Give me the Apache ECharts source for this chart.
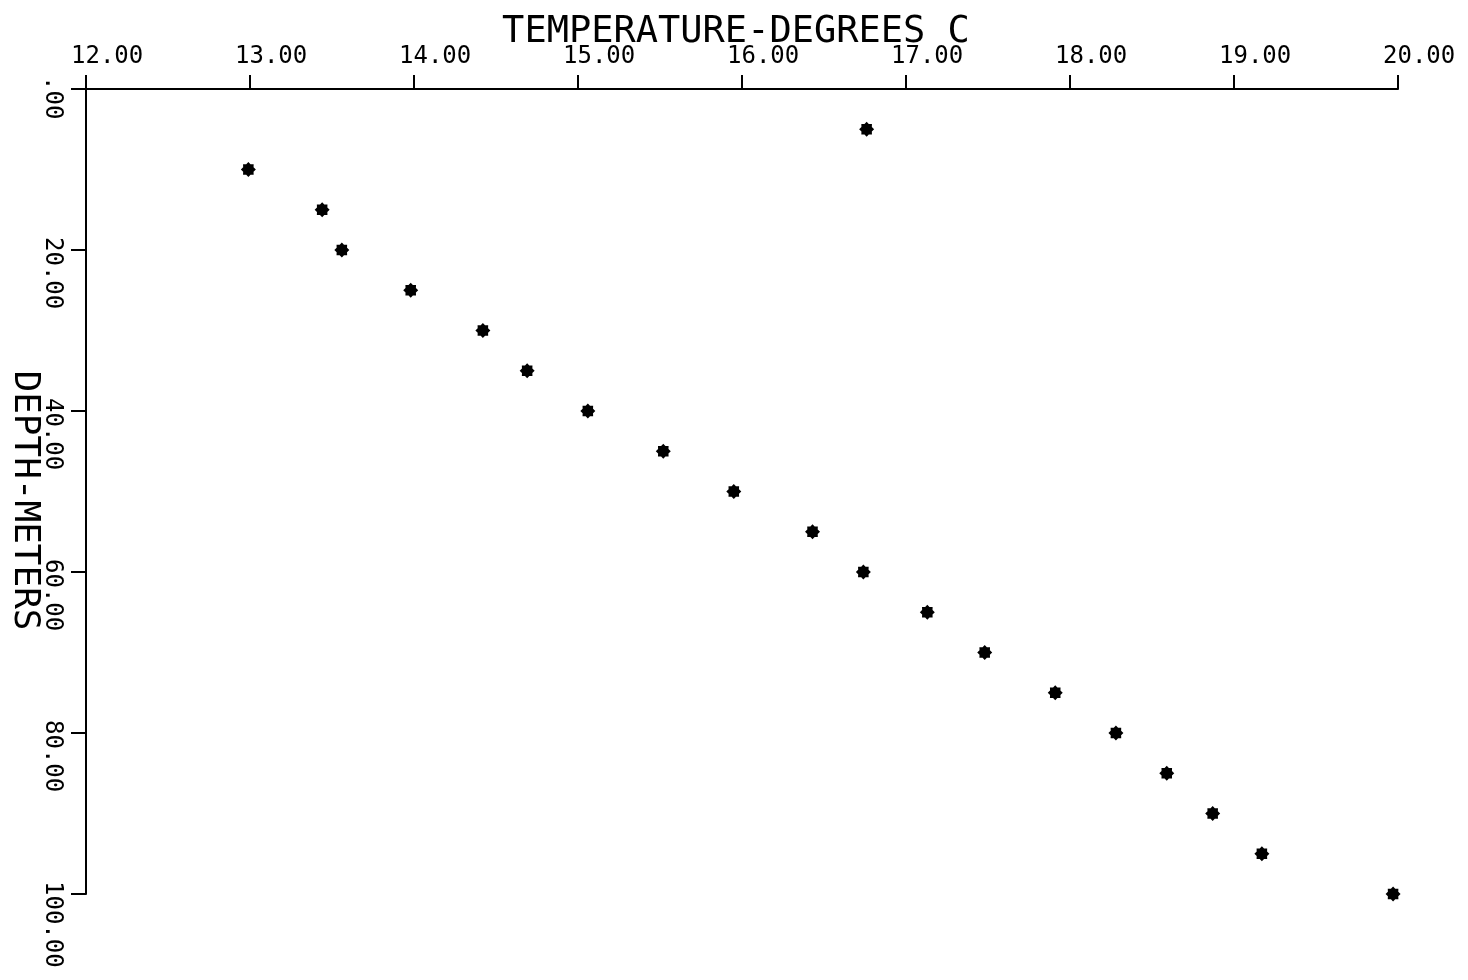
<!DOCTYPE html>
<html>
<head>
<meta charset="utf-8">
<style>
  html, body { margin: 0; padding: 0; background: #ffffff; }
  #chart { width: 1468px; height: 980px; }
</style>
<script src="https://cdn.jsdelivr.net/npm/echarts@6/dist/echarts.min.js"></script>
</head>
<body>
<div id="chart"></div>
<script>
// ---- data ----
const depthMeters = [5, 10, 15, 20, 25, 30, 35, 40, 45, 50, 55, 60, 65, 70, 75, 80, 85, 90, 95, 100];
const temperatureC = [16.76, 12.99, 13.44, 13.56, 13.98, 14.42, 14.69, 15.06, 15.52, 15.95, 16.43, 16.74, 17.13, 17.48, 17.91, 18.28, 18.59, 18.87, 19.17, 19.97];
const xAxisTitle = 'TEMPERATURE-DEGREES C';
const yAxisTitle = 'DEPTH-METERS';

// asterisk-like marker path (8-pointed star)
function starPath() {
  const pts = [];
  for (let k = 0; k < 16; k++) {
    const a = k * Math.PI / 8 - Math.PI / 2;
    const r = (k % 2 === 0) ? 10 : 7.5;
    pts.push((10 + r * Math.cos(a)).toFixed(2) + ' ' + (10 + r * Math.sin(a)).toFixed(2));
  }
  return 'path://M' + pts.join(' L') + ' Z';
}

const points = depthMeters.map((d, i) => [temperatureC[i], d]);
const FONT = 'DejaVu Sans Mono';

const chart = echarts.init(document.getElementById('chart'), null, { renderer: 'canvas' });
chart.setOption({
  backgroundColor: '#ffffff',
  animation: false,
  grid: { left: 86, right: 70, top: 89, bottom: 86, containLabel: false, outerBoundsMode: 'none' },
  xAxis: {
    type: 'value',
    position: 'top',
    min: 12, max: 20, interval: 1,
    name: xAxisTitle,
    nameLocation: 'middle',
    nameGap: 57,
    nameMoveOverlap: false,
    nameTextStyle: { fontFamily: FONT, fontSize: 37, color: '#000', verticalAlign: 'middle', padding: [0, 12, 0, 0] },
    axisLine: { show: true, onZero: false, lineStyle: { color: '#000', width: 2 } },
    axisTick: { show: true, inside: false, length: 14, lineStyle: { color: '#000', width: 2 } },
    splitLine: { show: false },
    axisLabel: {
      fontFamily: FONT, fontSize: 24, color: '#000',
      margin: 32, align: 'left', verticalAlign: 'middle',
      padding: [0, 0, 0, -15],
      formatter: v => v.toFixed(2)
    }
  },
  yAxis: {
    type: 'value',
    inverse: true,
    min: 0, max: 100, interval: 20,
    name: yAxisTitle,
    nameLocation: 'middle',
    nameRotate: -90,
    nameGap: 62,
    nameMoveOverlap: false,
    nameTextStyle: { fontFamily: FONT, fontSize: 36, color: '#000', verticalAlign: 'middle', align: 'center', padding: [0, 0, 0, 18] },
    axisLine: { show: true, onZero: false, lineStyle: { color: '#000', width: 2 } },
    axisTick: { show: true, inside: false, length: 15, lineStyle: { color: '#000', width: 2 } },
    splitLine: { show: false },
    axisLabel: {
      fontFamily: FONT, fontSize: 24, color: '#000',
      rotate: -90,
      margin: 34, align: 'left', verticalAlign: 'middle',
      padding: [0, 0, 0, -13],
      formatter: v => (v === 0 ? '.00' : v.toFixed(2))
    }
  },
  series: [{
    type: 'scatter',
    data: points,
    symbol: starPath(),
    symbolSize: 15,
    itemStyle: { color: '#000', opacity: 1 },
    silent: true
  }]
});
</script>
</body>
</html>
